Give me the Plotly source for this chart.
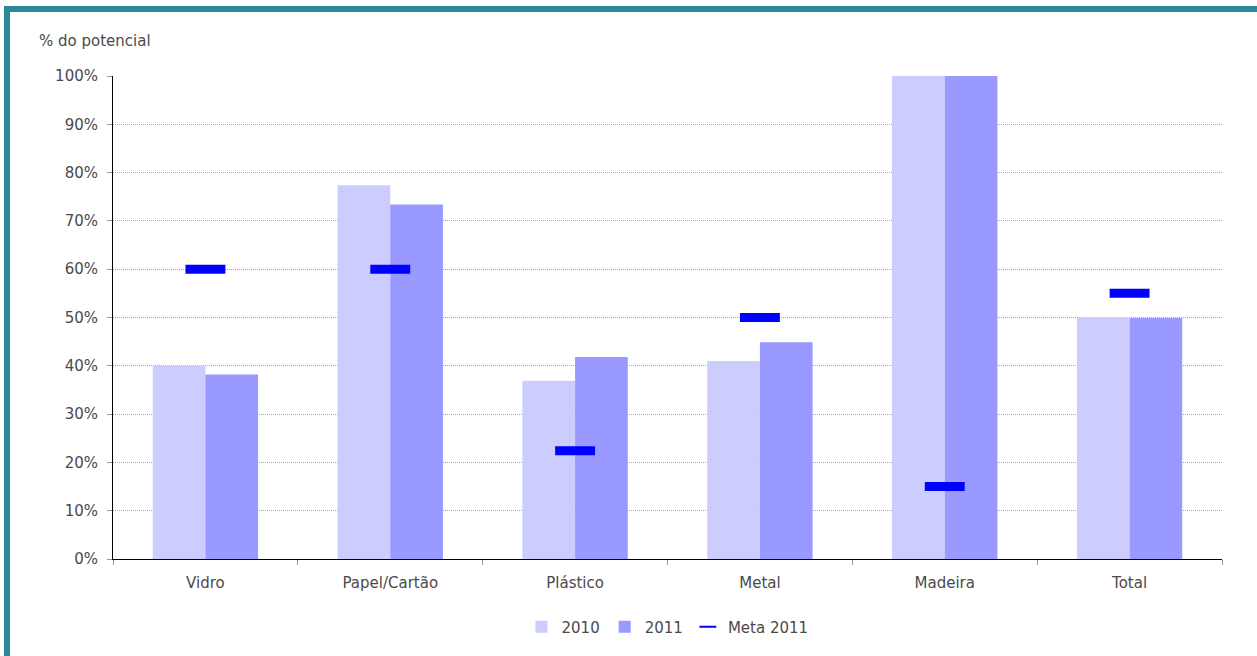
import plotly.graph_objects as go

categories = ["Vidro", "Papel/Cartão", "Plástico", "Metal", "Madeira", "Total"]
values_2010 = [40.0, 77.4, 36.9, 41.0, 100.0, 50.0]
values_2011 = [38.2, 73.4, 41.8, 44.9, 100.0, 49.9]
meta_2011 = [60, 60, 22.4, 50, 15, 55]
y_ticks = [0, 10, 20, 30, 40, 50, 60, 70, 80, 90, 100]
y_tick_labels = [f"{v}%" for v in y_ticks]

FONT = "DejaVu Sans"
TXT = "#4a4a4a"
FS = 15

fig = go.Figure()
fig.add_trace(go.Bar(x=categories, y=values_2010, name="2010",
                     marker=dict(color="#CCCCFF", line=dict(width=0))))
fig.add_trace(go.Bar(x=categories, y=values_2011, name="2011",
                     marker=dict(color="#9999FF", line=dict(width=0))))
fig.add_trace(go.Scatter(x=categories, y=meta_2011, name="Meta 2011", mode="markers",
                         marker=dict(symbol="line-ew", size=28.5,
                                     line=dict(color="#0000FF", width=9))))

W, H = 1257, 656
L, R, T, B = 113, 1222, 76, 559
pw, ph = R - L, B - T

def px(x):
    return (x - L) / pw

def py(y):
    return (B - y) / ph

teal = "#2E8799"
shapes = [
    dict(type="rect", xref="paper", yref="paper", x0=px(4), x1=px(1257), y0=py(12), y1=py(6),
         fillcolor=teal, line=dict(width=0), layer="above"),
    dict(type="rect", xref="paper", yref="paper", x0=px(4), x1=px(10), y0=py(656), y1=py(6),
         fillcolor=teal, line=dict(width=0), layer="above"),
]

fig.update_layout(
    width=W, height=H,
    margin=dict(l=L, r=W - R, t=T, b=H - B, pad=0),
    paper_bgcolor="white", plot_bgcolor="white",
    barmode="group", bargap=0.43, bargroupgap=0,
    font=dict(family=FONT, size=FS, color=TXT),
    showlegend=True,
    legend=dict(orientation="h", x=0.5, xanchor="center", y=py(627), yanchor="middle",
                font=dict(family=FONT, size=FS, color=TXT), itemwidth=30,
                tracegroupgap=0, itemsizing="constant"),
    shapes=shapes,
    annotations=[dict(text="% do potencial", xref="paper", yref="paper",
                      x=px(37), y=py(41), xanchor="left", yanchor="middle",
                      showarrow=False, font=dict(family=FONT, size=FS, color=TXT))],
)
fig.update_xaxes(type="category", showline=True, linecolor="black", linewidth=1,
                 ticks="outside", tickson="boundaries", ticklen=5, tickcolor="#999999",
                 ticklabelstandoff=10,
                 showgrid=False, tickfont=dict(family=FONT, size=FS, color=TXT))
fig.update_yaxes(range=[0, 100], tickvals=y_ticks, ticktext=y_tick_labels,
                 showline=True, linecolor="black", linewidth=1,
                 ticks="outside", ticklen=5, tickcolor="#999999",
                 ticklabelstandoff=6,
                 showgrid=True, gridcolor="#a8a8a8", griddash="1px,1px", gridwidth=1,
                 zeroline=False, tickfont=dict(family=FONT, size=FS, color=TXT))

fig.write_html("out.html", config={"displayModeBar": False},
               post_script="document.body.style.margin='0px';")
